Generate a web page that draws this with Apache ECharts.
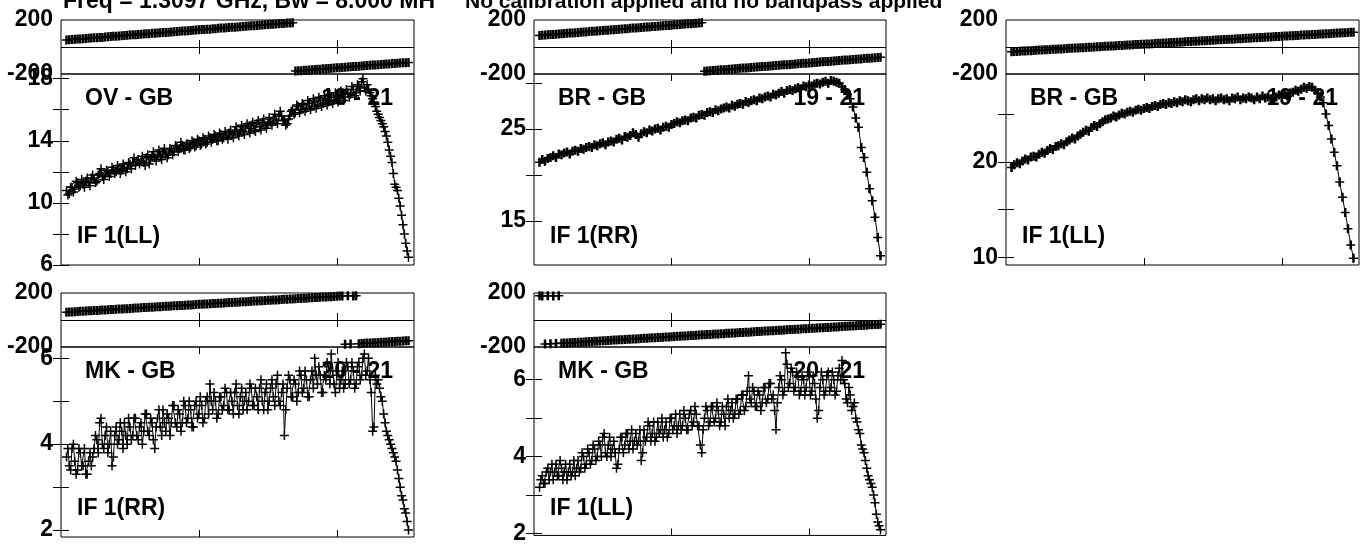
<!DOCTYPE html>
<html>
<head>
<meta charset="utf-8">
<title>POSSM spectra</title>
<script src="https://cdn.jsdelivr.net/npm/echarts@6/dist/echarts.min.js"></script>
<style>
  html, body { margin: 0; padding: 0; background: #fff; }
  #main { width: 1366px; height: 545px; }
</style>
</head>
<body>
<div id="main"></div>
<script>
// channel numbers, every second channel
const chans = [4,6,8,10,12,14,16,18,20,22,
  24,26,28,30,32,34,36,38,40,42,
  44,46,48,50,52,54,56,58,60,62,
  64,66,68,70,72,74,76,78,80,82,
  84,86,88,90,92,94,96,98,100,102,
  104,106,108,110,112,114,116,118,120,122,
  124,126,128,130,132,134,136,138,140,142,
  144,146,148,150,152,154,156,158,160,162,
  164,166,168,170,172,174,176,178,180,182,
  184,186,188,190,192,194,196,198,200,202,
  204,206,208,210,212,214,216,218,220,222,
  224,226,228,230,232,234,236,238,240,242,
  244,246,248,250,252];

// channel numbers, every channel (noisier baselines)
const chansAll = [4,5,6,7,8,9,10,11,12,13,
  14,15,16,17,18,19,20,21,22,23,
  24,25,26,27,28,29,30,31,32,33,
  34,35,36,37,38,39,40,41,42,43,
  44,45,46,47,48,49,50,51,52,53,
  54,55,56,57,58,59,60,61,62,63,
  64,65,66,67,68,69,70,71,72,73,
  74,75,76,77,78,79,80,81,82,83,
  84,85,86,87,88,89,90,91,92,93,
  94,95,96,97,98,99,100,101,102,103,
  104,105,106,107,108,109,110,111,112,113,
  114,115,116,117,118,119,120,121,122,123,
  124,125,126,127,128,129,130,131,132,133,
  134,135,136,137,138,139,140,141,142,143,
  144,145,146,147,148,149,150,151,152,153,
  154,155,156,157,158,159,160,161,162,163,
  164,165,166,167,168,169,170,171,172,173,
  174,175,176,177,178,179,180,181,182,183,
  184,185,186,187,188,189,190,191,192,193,
  194,195,196,197,198,199,200,201,202,203,
  204,205,206,207,208,209,210,211,212,213,
  214,215,216,217,218,219,220,221,222,223,
  224,225,226,227,228,229,230,231,232,233,
  234,235,236,237,238,239,240,241,242,243,
  244,245,246,247,248,249,250,251,252];

// amplitudes
const ampOvLL = [10.8,10.5,10.6,11.0,11.0,10.7,10.9,11.4,11.3,11.0,
  11.1,11.5,11.2,11.0,11.4,11.6,11.3,11.1,11.6,11.8,
  11.5,11.3,11.4,11.8,11.9,12.2,11.7,11.5,11.8,12.1,
  12.0,11.7,11.9,12.3,12.1,11.9,12.0,12.4,12.2,11.9,
  12.1,12.5,12.3,12.0,12.2,12.6,12.5,12.2,12.6,12.9,
  12.4,12.7,12.8,12.5,12.7,13.0,12.6,12.4,12.9,13.1,
  12.5,12.8,13.0,13.3,12.9,12.7,13.1,13.4,13.0,12.8,
  13.3,13.5,13.2,12.9,13.1,13.5,13.4,13.1,13.3,13.7,
  13.6,13.3,13.5,13.9,13.7,13.4,13.4,13.8,13.8,13.5,
  13.6,14.0,13.9,13.6,13.7,14.1,14.0,13.7,13.8,14.2,
  14.1,13.8,13.9,14.3,14.2,13.9,14.1,14.4,14.3,14.0,
  14.0,14.5,14.4,14.1,14.2,14.6,14.3,14.1,14.5,14.7,
  14.4,14.2,14.6,14.9,14.5,14.3,14.7,15.0,14.6,14.4,
  14.9,15.1,14.8,14.5,15.0,15.2,14.7,14.6,15.1,15.3,
  14.9,14.7,15.2,15.4,15.0,14.8,15.1,15.5,15.2,15.0,
  15.4,15.7,15.3,15.1,15.6,15.9,15.6,15.3,15.3,15.0,
  15.1,15.4,15.6,15.9,16.0,15.7,15.8,16.3,16.2,15.8,
  16.0,16.4,16.3,15.9,16.1,16.6,16.4,16.0,16.2,16.7,
  16.5,16.1,16.3,16.8,16.6,16.2,16.4,16.9,16.7,16.3,
  16.5,17.0,16.8,16.4,16.6,17.1,16.9,16.5,16.7,17.2,
  17.0,16.6,16.8,17.3,17.1,16.8,17.0,17.5,17.3,16.9,
  17.1,17.6,17.5,17.2,17.8,18.0,17.4,17.2,17.6,17.3,
  17.1,16.9,16.7,16.5,16.2,15.9,15.7,15.5,15.3,15.1,
  14.9,14.6,14.3,13.9,13.4,13.0,12.6,11.9,11.2,11.0,
  10.8,10.3,9.8,9.2,8.6,8.0,7.4,6.9,6.5];
const ampBrRR = [21.4,21.7,21.5,21.8,21.9,22.1,21.9,22.3,22.2,22.4,
  22.5,22.3,22.6,22.7,22.6,22.9,22.8,23.0,23.1,23.0,
  23.3,23.2,23.4,23.5,23.3,23.6,23.7,23.6,23.9,24.0,
  23.8,24.2,24.1,24.3,24.6,24.4,24.1,24.5,24.7,24.6,
  24.9,24.8,25.0,25.1,24.9,25.2,25.3,25.2,25.5,25.6,
  25.8,25.7,25.9,26.0,25.9,26.2,26.3,26.2,26.5,26.6,
  26.5,26.8,26.9,26.8,27.1,27.0,27.2,27.3,27.4,27.3,
  27.6,27.5,27.7,27.8,27.7,28.0,27.9,28.1,28.2,28.1,
  28.4,28.3,28.5,28.6,28.5,28.8,28.7,28.9,29.1,28.9,
  29.2,29.3,29.2,29.4,29.5,29.4,29.7,29.6,29.8,29.7,
  29.9,30.0,29.9,30.1,30.2,30.0,30.3,30.2,30.1,30.0,
  29.6,29.3,28.8,28.3,27.4,26.2,25.2,23.0,21.9,20.3,
  18.5,17.2,15.4,13.2,11.2];
const ampBrLL = [19.4,19.7,19.9,19.8,20.1,20.3,20.2,20.5,20.6,20.5,
  20.8,21.0,20.9,21.2,21.4,21.3,21.6,21.7,21.9,21.8,
  22.1,22.3,22.5,22.4,22.7,22.9,23.1,23.3,23.2,23.6,
  23.8,23.7,24.0,24.2,24.4,24.5,24.6,24.8,24.7,24.9,
  25.1,25.0,25.2,25.3,25.2,25.4,25.5,25.4,25.6,25.7,
  25.6,25.8,25.9,25.8,26.0,26.1,26.0,26.2,26.1,26.3,
  26.2,26.4,26.3,26.5,26.4,26.3,26.5,26.6,26.4,26.6,
  26.5,26.7,26.5,26.6,26.4,26.6,26.7,26.5,26.6,26.4,
  26.7,26.6,26.8,26.5,26.7,26.6,26.8,26.7,26.5,26.8,
  26.6,26.9,26.7,26.8,26.6,26.9,26.8,27.0,26.8,27.1,
  26.9,27.2,27.3,27.5,27.4,27.6,27.8,27.7,27.9,27.8,
  27.5,27.2,26.8,26.2,25.0,23.8,22.4,21.0,19.6,17.9,
  16.3,14.7,13.0,11.3,9.9];
const ampMkRR = [3.7,3.9,3.5,3.4,3.9,4.0,3.6,3.3,3.4,3.9,
  3.8,3.5,3.5,3.9,3.3,3.3,3.6,3.8,3.5,3.7,
  3.9,4.2,4.1,3.8,4.5,4.6,4.0,3.9,4.2,4.4,
  3.8,4.0,4.3,3.5,3.7,4.2,4.4,4.0,4.1,4.5,
  4.3,3.9,4.5,4.2,4.0,4.6,4.4,4.1,4.2,4.6,
  4.6,4.2,4.1,4.4,4.5,4.0,4.3,4.7,4.7,4.3,
  4.2,4.6,4.5,4.1,3.9,4.4,4.6,4.8,4.4,4.2,
  4.8,4.5,4.3,4.7,4.6,4.2,4.5,4.9,4.9,4.5,
  4.4,4.8,4.7,4.3,4.5,5.0,4.9,4.5,4.6,5.0,
  4.8,4.4,4.4,4.9,5.0,4.6,4.7,5.1,4.9,4.5,
  4.6,5.0,5.1,4.7,5.4,5.0,4.8,5.2,5.0,4.6,
  4.7,5.1,5.1,4.8,4.9,5.3,5.2,4.8,4.8,5.2,
  5.0,4.7,5.2,5.4,4.9,4.7,5.1,5.3,4.8,5.0,
  5.2,4.8,5.0,5.4,5.3,4.9,4.9,5.3,5.1,4.8,
  5.3,5.5,5.0,4.8,5.2,5.4,4.8,5.0,5.3,5.5,
  5.1,4.9,5.4,5.6,5.0,4.9,5.2,5.4,4.2,4.8,
  5.3,5.6,5.5,5.1,5.1,5.5,5.4,5.0,5.2,5.7,
  5.6,5.2,5.3,5.7,5.5,5.1,5.1,5.5,5.7,5.3,
  6.0,5.6,5.4,5.8,5.6,5.2,5.2,5.6,5.5,5.9,
  5.8,5.4,6.1,5.7,5.4,5.2,5.6,5.9,5.3,5.5,
  5.7,5.3,5.4,5.9,5.8,5.4,5.5,5.9,5.7,5.3,
  5.4,5.8,5.9,5.5,5.6,6.0,6.1,5.6,5.7,6.0,
  5.5,5.2,4.3,4.4,5.6,5.4,5.5,5.3,5.1,5.0,
  4.7,4.5,4.3,4.2,4.1,4.0,3.9,3.8,3.7,3.6,
  3.4,3.2,3.0,2.8,2.7,2.5,2.4,2.2,2.0];
const ampMkLL = [3.2,3.4,3.5,3.3,3.3,3.6,3.7,3.4,3.6,3.8,
  3.4,3.6,3.8,3.5,3.5,3.9,3.7,3.4,3.6,3.8,
  3.4,3.6,3.8,3.5,3.6,3.9,3.5,3.7,3.9,3.6,
  3.7,4.1,4.0,3.7,3.8,4.2,4.1,3.8,3.9,4.3,
  4.2,3.9,4.0,4.4,4.3,4.0,4.5,4.6,4.1,4.0,
  4.3,4.5,4.0,4.2,4.4,4.1,3.7,3.8,4.2,4.5,
  4.5,4.1,4.3,4.6,4.6,4.2,4.4,4.7,4.2,4.4,
  4.6,4.3,4.4,4.7,3.9,4.1,4.7,4.4,4.5,4.9,
  4.8,4.4,4.6,4.9,4.4,4.5,4.9,4.6,4.7,5.0,
  4.5,4.7,4.9,4.5,4.6,5.0,5.0,4.7,4.8,5.1,
  4.6,4.8,5.1,4.7,4.8,5.2,5.0,4.7,4.7,5.1,
  5.2,4.8,4.9,5.3,5.1,4.8,4.8,4.3,4.1,4.7,
  5.0,5.3,5.2,4.8,4.9,5.3,5.3,4.9,5.0,5.4,
  5.2,4.8,4.9,5.3,5.1,4.8,5.3,5.5,5.0,5.2,
  5.4,5.0,5.1,5.5,5.5,5.1,5.2,5.6,5.6,5.2,
  5.3,5.7,6.1,5.5,5.4,5.8,5.7,5.3,5.3,5.7,
  5.6,5.2,5.4,5.8,5.8,5.4,5.5,5.9,5.9,5.5,
  5.6,5.2,4.7,5.4,5.8,6.1,6.0,5.6,5.7,6.7,
  6.4,5.8,5.9,6.3,6.2,5.7,5.8,6.2,6.1,5.6,
  5.7,6.1,6.0,5.6,5.8,6.2,6.1,5.6,5.7,6.1,
  5.9,5.5,5.0,5.2,5.8,6.2,6.0,5.6,5.7,6.1,
  6.2,5.7,5.8,6.2,6.0,5.6,5.7,6.1,6.3,6.0,
  6.5,6.0,5.9,5.5,5.4,5.8,5.6,5.2,5.3,5.4,
  5.0,4.9,4.7,4.6,4.3,4.2,4.1,3.9,3.7,3.5,
  3.4,3.3,3.2,3.0,2.8,2.5,2.3,2.2,2.1];

// phases (degrees), every second channel
const phsOvLL = [52,54,55,58,59,60,61,63,64,66,
  68,69,71,71,74,76,77,79,80,82,
  83,85,87,88,90,91,93,94,96,98,
  99,101,102,104,106,107,108,110,112,113,
  115,116,118,119,121,122,124,126,127,129,
  130,132,132,135,136,138,140,141,143,144,
  146,147,149,150,152,154,155,157,158,160,
  161,163,164,166,168,169,171,172,174,175,
  177,178,180,-178,-176,-175,-173,-172,-171,-169,
  -167,-165,-164,-162,-161,-159,-158,-156,-154,-153,
  -151,-150,-148,-147,-145,-144,-142,-140,-138,-137,
  -136,-134,-133,-131,-130,-128,-126,-125,-123,-122,
  -120,-119,-117,-116,-114];
const phsBrRR = [85,87,88,90,92,93,95,96,98,100,
  101,103,104,106,108,109,111,112,114,116,
  117,119,120,122,124,125,127,128,130,132,
  133,135,136,138,140,141,143,144,146,148,
  149,151,152,154,156,157,159,160,162,164,
  165,167,168,170,172,173,175,176,178,179,
  -179,-177,-176,-174,-172,-171,-169,-168,-166,-164,
  -163,-161,-160,-158,-156,-155,-153,-152,-150,-148,
  -147,-145,-144,-142,-140,-139,-137,-136,-134,-132,
  -131,-129,-128,-126,-124,-123,-121,-120,-118,-116,
  -115,-113,-112,-110,-108,-107,-105,-104,-102,-100,
  -99,-97,-96,-94,-92,-91,-89,-88,-86,-84,
  -83,-81,-80,-78,-76];
const phsBrLL = [-35,-34,-33,-31,-30,-29,-28,-27,-26,-24,
  -23,-22,-21,-20,-19,-17,-16,-15,-14,-13,
  -12,-10,-9,-8,-7,-6,-5,-3,-2,-1,
  0,1,2,4,5,6,7,8,9,11,
  12,13,14,15,16,18,19,20,21,22,
  23,25,26,27,28,29,30,32,33,34,
  35,36,37,39,40,41,42,43,44,46,
  47,48,49,50,51,53,54,55,56,57,
  58,60,61,62,63,64,65,67,68,69,
  70,71,72,74,75,76,77,78,79,81,
  82,83,84,85,86,88,89,90,91,92,
  93,95,96,97,98,99,100,102,103,104,
  105,106,107,109,110];
const phsMkRR = [58,59,60,62,63,64,65,66,68,69,
  70,71,72,74,75,76,77,78,80,81,
  82,83,84,86,87,88,89,90,92,93,
  94,95,96,98,99,100,101,102,104,105,
  106,107,108,110,111,112,113,114,116,117,
  118,119,120,122,123,124,125,126,128,129,
  130,131,132,134,135,136,137,138,140,141,
  142,143,144,146,147,148,149,150,152,153,
  154,155,156,158,159,160,161,162,164,165,
  166,167,168,170,171,172,173,174,176,177,
  178,-179,179,-178,177,179,-175,-174,-172,-171,
  -170,-169,-168,-166,-165,-164,-163,-162,-160,-159,
  -158,-157,-156,-154,-153];
const phsMkLL = [179,178,-177,179,-176,178,-174,179,-172,-171,
  -170,-169,-167,-166,-165,-164,-163,-161,-160,-159,
  -158,-157,-155,-154,-153,-152,-150,-149,-148,-147,
  -146,-144,-143,-142,-141,-140,-138,-137,-136,-135,
  -133,-132,-131,-130,-129,-127,-126,-125,-124,-122,
  -121,-120,-119,-118,-116,-115,-114,-113,-112,-110,
  -109,-108,-107,-106,-104,-103,-102,-101,-99,-98,
  -97,-96,-95,-93,-92,-91,-90,-88,-87,-86,
  -85,-84,-82,-81,-80,-79,-78,-76,-75,-74,
  -73,-71,-70,-69,-68,-67,-65,-64,-63,-62,
  -61,-59,-58,-57,-56,-55,-53,-52,-51,-50,
  -48,-47,-46,-45,-44,-42,-41,-40,-39,-38,
  -36,-35,-34,-33,-32];

// amplitude axis ticks and labels per panel
const ticksOvLL = [6,8,10,12,14,16,18],  labelsOvLL = [6,10,14,18];
const ticksBrRR = [15,20,25,30],         labelsBrRR = [15,25];
const ticksBrLL = [10,15,20,25],         labelsBrLL = [10,20];
const ticksMkRR = [2,3,4,5,6],           labelsMkRR = [2,4,6];
const ticksMkLL = [2,3,4,5,6],           labelsMkLL = [2,4,6];
const chanTicks = [100,200];
const phaseLabels = [-200,200];

const FONT = '"Liberation Sans", Arial, Helvetica, sans-serif';

const panels = [
  {left: 61,   width: 353, top: 20,  split: 74,  bottom: 265, ymin: 6,    ymax: 18.3, x: chansAll, amp: ampOvLL, phs: phsOvLL, ticks: ticksOvLL, labels: labelsOvLL, base: 'OV - GB', ants: '18 - 21', pol: 'IF 1(LL)'},
  {left: 534,  width: 352, top: 20,  split: 74,  bottom: 265, ymin: 10.2, ymax: 31.0, x: chans,    amp: ampBrRR, phs: phsBrRR, ticks: ticksBrRR, labels: labelsBrRR, base: 'BR - GB', ants: '19 - 21', pol: 'IF 1(RR)'},
  {left: 1006, width: 353, top: 20,  split: 74,  bottom: 265, ymin: 9.2,  ymax: 29.2, x: chans,    amp: ampBrLL, phs: phsBrLL, ticks: ticksBrLL, labels: labelsBrLL, base: 'BR - GB', ants: '19 - 21', pol: 'IF 1(LL)'},
  {left: 61,   width: 353, top: 293, split: 347, bottom: 537, ymin: 1.84, ymax: 6.26, x: chansAll, amp: ampMkRR, phs: phsMkRR, ticks: ticksMkRR, labels: labelsMkRR, base: 'MK - GB', ants: '20 - 21', pol: 'IF 1(RR)'},
  {left: 534,  width: 352, top: 293, split: 347, bottom: 537, ymin: 1.95, ymax: 6.85, x: chansAll, amp: ampMkLL, phs: phsMkLL, ticks: ticksMkLL, labels: labelsMkLL, base: 'MK - GB', ants: '20 - 21', pol: 'IF 1(LL)'}
];

// "+" markers: thin one for every-channel tracks, one with a wider stem for every-second-channel tracks
const PLUS = 'path://M3.75,0h1.5v3.75h3.75v1.5h-3.75v3.75h-1.5v-3.75h-3.75v-1.5h3.75z';
const PLUS_WIDE = 'path://M3.25,0h2.5v3.75h3.25v1.5h-3.25v3.75h-2.5v-3.75h-3.25v-1.5h3.25z';

let chart = echarts.init(document.getElementById('main'), null, {renderer: 'canvas'});

let grids = [], xAxes = [], yAxes = [], series = [], graphics = [];

function addGrid(left, top, width, height) {
    grids.push({left: left, top: top, width: width, height: height,
        show: true, borderColor: '#000', borderWidth: 1, backgroundColor: 'transparent'});
    let g = grids.length - 1;
    ['bottom', 'top'].forEach(function (pos) {
        xAxes.push({
            gridIndex: g, type: 'value', position: pos, min: 0, max: 256,
            axisLine: {show: false},
            axisTick: {show: true, inside: true, length: 7, customValues: chanTicks,
                lineStyle: {color: '#000', width: 1}},
            axisLabel: {show: false},
            splitLine: {show: false}
        });
    });
    return g;
}

function text(x, y, s, size, align) {
    return {
        type: 'text', x: x, y: y, z: 0, silent: true,
        style: {text: s, fill: '#000', font: 'bold ' + size + 'px ' + FONT,
            textAlign: align, align: align, textVerticalAlign: 'middle', verticalAlign: 'middle'}
    };
}

// break the phase track where it wraps so no line crosses the box
function phaseData(ph) {
    let out = [];
    ph.forEach(function (v, k) {
        if (k > 0 && Math.abs(v - ph[k - 1]) > 180) out.push([chans[k], null]);
        out.push([chans[k], v]);
    });
    return out;
}

panels.forEach(function (p) {
    // phase box
    let gp = addGrid(p.left, p.top, p.width, p.split - p.top);
    yAxes.push({
        gridIndex: gp, type: 'value', position: 'left', min: -200, max: 200,
        axisLine: {show: false}, axisTick: {show: false}, splitLine: {show: false},
        axisLabel: {show: true, customValues: phaseLabels, color: '#000', fontSize: 23,
            fontWeight: 'bold', fontFamily: FONT, margin: 8}
    });
    yAxes.push({gridIndex: gp, type: 'value', position: 'right', min: -200, max: 200, show: false});

    series.push({
        type: 'line', xAxisIndex: gp * 2, yAxisIndex: gp * 2,
        data: phaseData(p.phs), connectNulls: false,
        symbol: PLUS_WIDE, symbolSize: 9, showSymbol: true, showAllSymbol: true,
        itemStyle: {color: '#000'}, lineStyle: {color: '#000', width: 1},
        silent: true, animation: false,
        markLine: {silent: true, symbol: 'none', animation: false, label: {show: false},
            lineStyle: {color: '#000', width: 1, type: 'solid'}, data: [{yAxis: 0}]}
    });

    // amplitude box
    let ga = addGrid(p.left, p.split, p.width, p.bottom - p.split);
    yAxes.push({
        gridIndex: ga, type: 'value', position: 'left', min: p.ymin, max: p.ymax,
        axisLine: {show: false}, splitLine: {show: false},
        axisTick: {show: true, inside: true, length: 8, customValues: p.ticks,
            lineStyle: {color: '#000', width: 1}},
        axisLabel: {show: true, customValues: p.labels, color: '#000', fontSize: 23,
            fontWeight: 'bold', fontFamily: FONT, margin: 8}
    });
    yAxes.push({
        gridIndex: ga, type: 'value', position: 'right', min: p.ymin, max: p.ymax,
        axisLine: {show: false}, splitLine: {show: false},
        axisTick: {show: true, inside: true, length: 8, customValues: p.ticks,
            lineStyle: {color: '#000', width: 1}},
        axisLabel: {show: false}
    });

    series.push({
        type: 'line', xAxisIndex: ga * 2, yAxisIndex: ga * 2,
        data: p.x.map(function (c, k) { return [c, p.amp[k]]; }),
        symbol: p.x === chans ? PLUS_WIDE : PLUS, symbolSize: 9, showSymbol: true, showAllSymbol: true,
        itemStyle: {color: '#000'}, lineStyle: {color: '#000', width: 1},
        silent: true, animation: false
    });

    graphics.push(text(p.left + 24, p.split + 25, p.base, 23, 'left'));
    graphics.push(text(p.left + p.width - 21, p.split + 25, p.ants, 23, 'right'));
    graphics.push(text(p.left + 16, p.bottom - 28, p.pol, 23, 'left'));
});

graphics.push(text(63, 2, 'Freq = 1.3097 GHz, Bw = 8.000 MH', 23, 'left'));
graphics.push(text(465, 2, 'No calibration applied and no bandpass applied', 21, 'left'));

chart.setOption({
    animation: false,
    backgroundColor: '#fff',
    grid: grids,
    xAxis: xAxes,
    yAxis: yAxes,
    series: series,
    graphic: {elements: graphics}
});
</script>
</body>
</html>
